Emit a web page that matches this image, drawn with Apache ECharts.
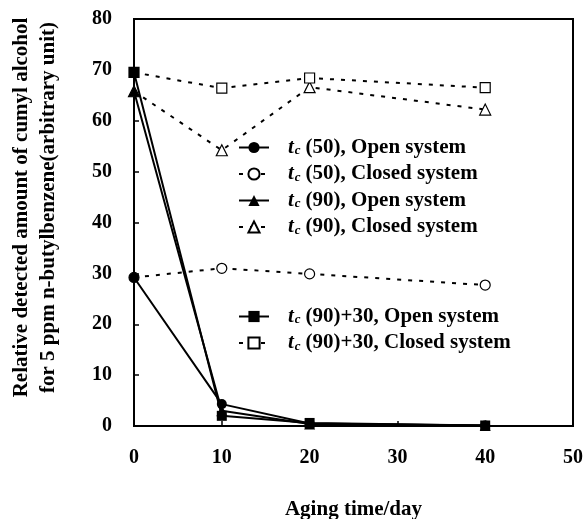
<!DOCTYPE html>
<html>
<head>
<meta charset="utf-8">
<script src="https://cdn.jsdelivr.net/npm/echarts@6/dist/echarts.min.js"></script>
<style>
  html, body { margin: 0; padding: 0; background: #fff; }
  #chart { width: 584px; height: 519px; }
</style>
</head>
<body>
<div id="chart"></div>
<script>
// Aging time (days) at which samples were measured
const days = [0, 10, 20, 40];

// Relative detected amount of cumyl alcohol for each condition
const tc50Open = [29.2, 4.3, 0.5, 0.1];
const tc50Closed = [29.2, 31.0, 29.9, 27.7];
const tc90Open = [65.8, 3.0, 0.4, 0.1];
const tc90Closed = [65.8, 54.2, 66.6, 62.2];
const tc90p30Open = [69.5, 2.0, 0.6, 0.1];
const tc90p30Closed = [69.5, 66.4, 68.4, 66.5];

// Axis ticks
const xTicks = [0, 10, 20, 30, 40, 50];
const yTicks = [0, 10, 20, 30, 40, 50, 60, 70, 80];

// Legend labels: [curing label, system]
const labels = {
  tc50Open: ['(50)', 'Open system'],
  tc50Closed: ['(50)', 'Closed system'],
  tc90Open: ['(90)', 'Open system'],
  tc90Closed: ['(90)', 'Closed system'],
  tc90p30Open: ['(90)+30', 'Open system'],
  tc90p30Closed: ['(90)+30', 'Closed system']
};

const SERIF = '"Liberation Serif", "Times New Roman", serif';
const pair = (ys) => days.map((d, i) => [d, ys[i]]);
const nameOf = (k) => 't_c' + labels[k][0] + ', ' + labels[k][1];

function openSeries(key, data, symbol, size) {
  return {
    name: nameOf(key), type: 'line', data: pair(data), z: 4,
    symbol: symbol, symbolSize: size,
    lineStyle: { color: '#000', width: 2 },
    itemStyle: { color: '#000', borderColor: '#000', borderWidth: 0 }
  };
}
function closedSeries(key, data, symbol, size) {
  return {
    name: nameOf(key), type: 'line', data: pair(data), z: 3,
    symbol: symbol, symbolSize: size,
    lineStyle: { color: '#000', width: 2, type: [4, 7] },
    itemStyle: { color: '#fff', borderColor: '#000', borderWidth: 1.2 }
  };
}

// "t" italic with subscript "c", then the plain label
const richLegend = {
  g: { width: 14, lineHeight: 20 },
  it: { fontFamily: SERIF, fontSize: 21, fontWeight: 'bold', fontStyle: 'italic', color: '#000', lineHeight: 20 },
  sub: { fontFamily: SERIF, fontSize: 13, fontWeight: 'bold', fontStyle: 'italic', color: '#000', lineHeight: 12, verticalAlign: 'bottom', padding: [0, 5, 0, 1] },
  n: { fontFamily: SERIF, fontSize: 21, fontWeight: 'bold', color: '#000', lineHeight: 20 }
};
function legendFormatter(name) {
  const rest = name.slice(3);
  return '{g|}{it|t}{sub|c}{n|' + rest + '}';
}
function legend(keys, top) {
  return {
    data: keys.map(nameOf), orient: 'vertical', left: 233, top: top,
    itemWidth: 30, itemHeight: 14, itemGap: 5.5, selectedMode: false,
    formatter: legendFormatter,
    textStyle: { rich: richLegend, lineHeight: 20 }
  };
}

const chart = echarts.init(document.getElementById('chart'), null, { renderer: 'canvas' });
chart.setOption({
  animation: false,
  backgroundColor: '#fff',
  grid: {
    left: 134, right: 11, top: 19, bottom: 93,
    outerBoundsMode: 'none', containLabel: false,
    show: true, borderColor: '#000', borderWidth: 2
  },
  legend: [
    legend(['tc50Open', 'tc50Closed', 'tc90Open', 'tc90Closed'], 132),
    legend(['tc90p30Open', 'tc90p30Closed'], 301)
  ],
  xAxis: {
    type: 'value', min: xTicks[0], max: xTicks[xTicks.length - 1], interval: 10,
    name: 'Aging time/day', nameLocation: 'middle', nameGap: 73,
    nameTextStyle: { fontFamily: SERIF, fontSize: 21, fontWeight: 'bold', color: '#000' },
    axisLine: { lineStyle: { color: '#000', width: 2 } },
    axisTick: { inside: true, length: 5, lineStyle: { color: '#000', width: 1.5 } },
    axisLabel: { margin: 22, fontFamily: SERIF, fontSize: 20, fontWeight: 'bold', color: '#000' },
    splitLine: { show: false }
  },
  yAxis: {
    type: 'value', min: yTicks[0], max: yTicks[yTicks.length - 1], interval: 10,
    name: 'Relative detected amount of cumyl alcohol\nfor 5 ppm n-butylbenzene(arbitrary unit)',
    nameLocation: 'middle', nameRotate: 90, nameGap: 72,
    nameTextStyle: {
      fontFamily: SERIF, fontSize: 21, fontWeight: 'bold', color: '#000', lineHeight: 27,
      padding: [0, 0, 0, 30]
    },
    axisLine: { lineStyle: { color: '#000', width: 2 } },
    axisTick: { inside: true, length: 5, lineStyle: { color: '#000', width: 1.5 } },
    axisLabel: { margin: 22, fontFamily: SERIF, fontSize: 20, fontWeight: 'bold', color: '#000' },
    splitLine: { show: false }
  },
  series: [
    openSeries('tc50Open', tc50Open, 'circle', 10),
    closedSeries('tc50Closed', tc50Closed, 'circle', 10),
    openSeries('tc90Open', tc90Open, 'triangle', 11),
    closedSeries('tc90Closed', tc90Closed, 'triangle', 11),
    openSeries('tc90p30Open', tc90p30Open, 'rect', 10),
    closedSeries('tc90p30Closed', tc90p30Closed, 'rect', 10)
  ]
});
</script>
</body>
</html>
